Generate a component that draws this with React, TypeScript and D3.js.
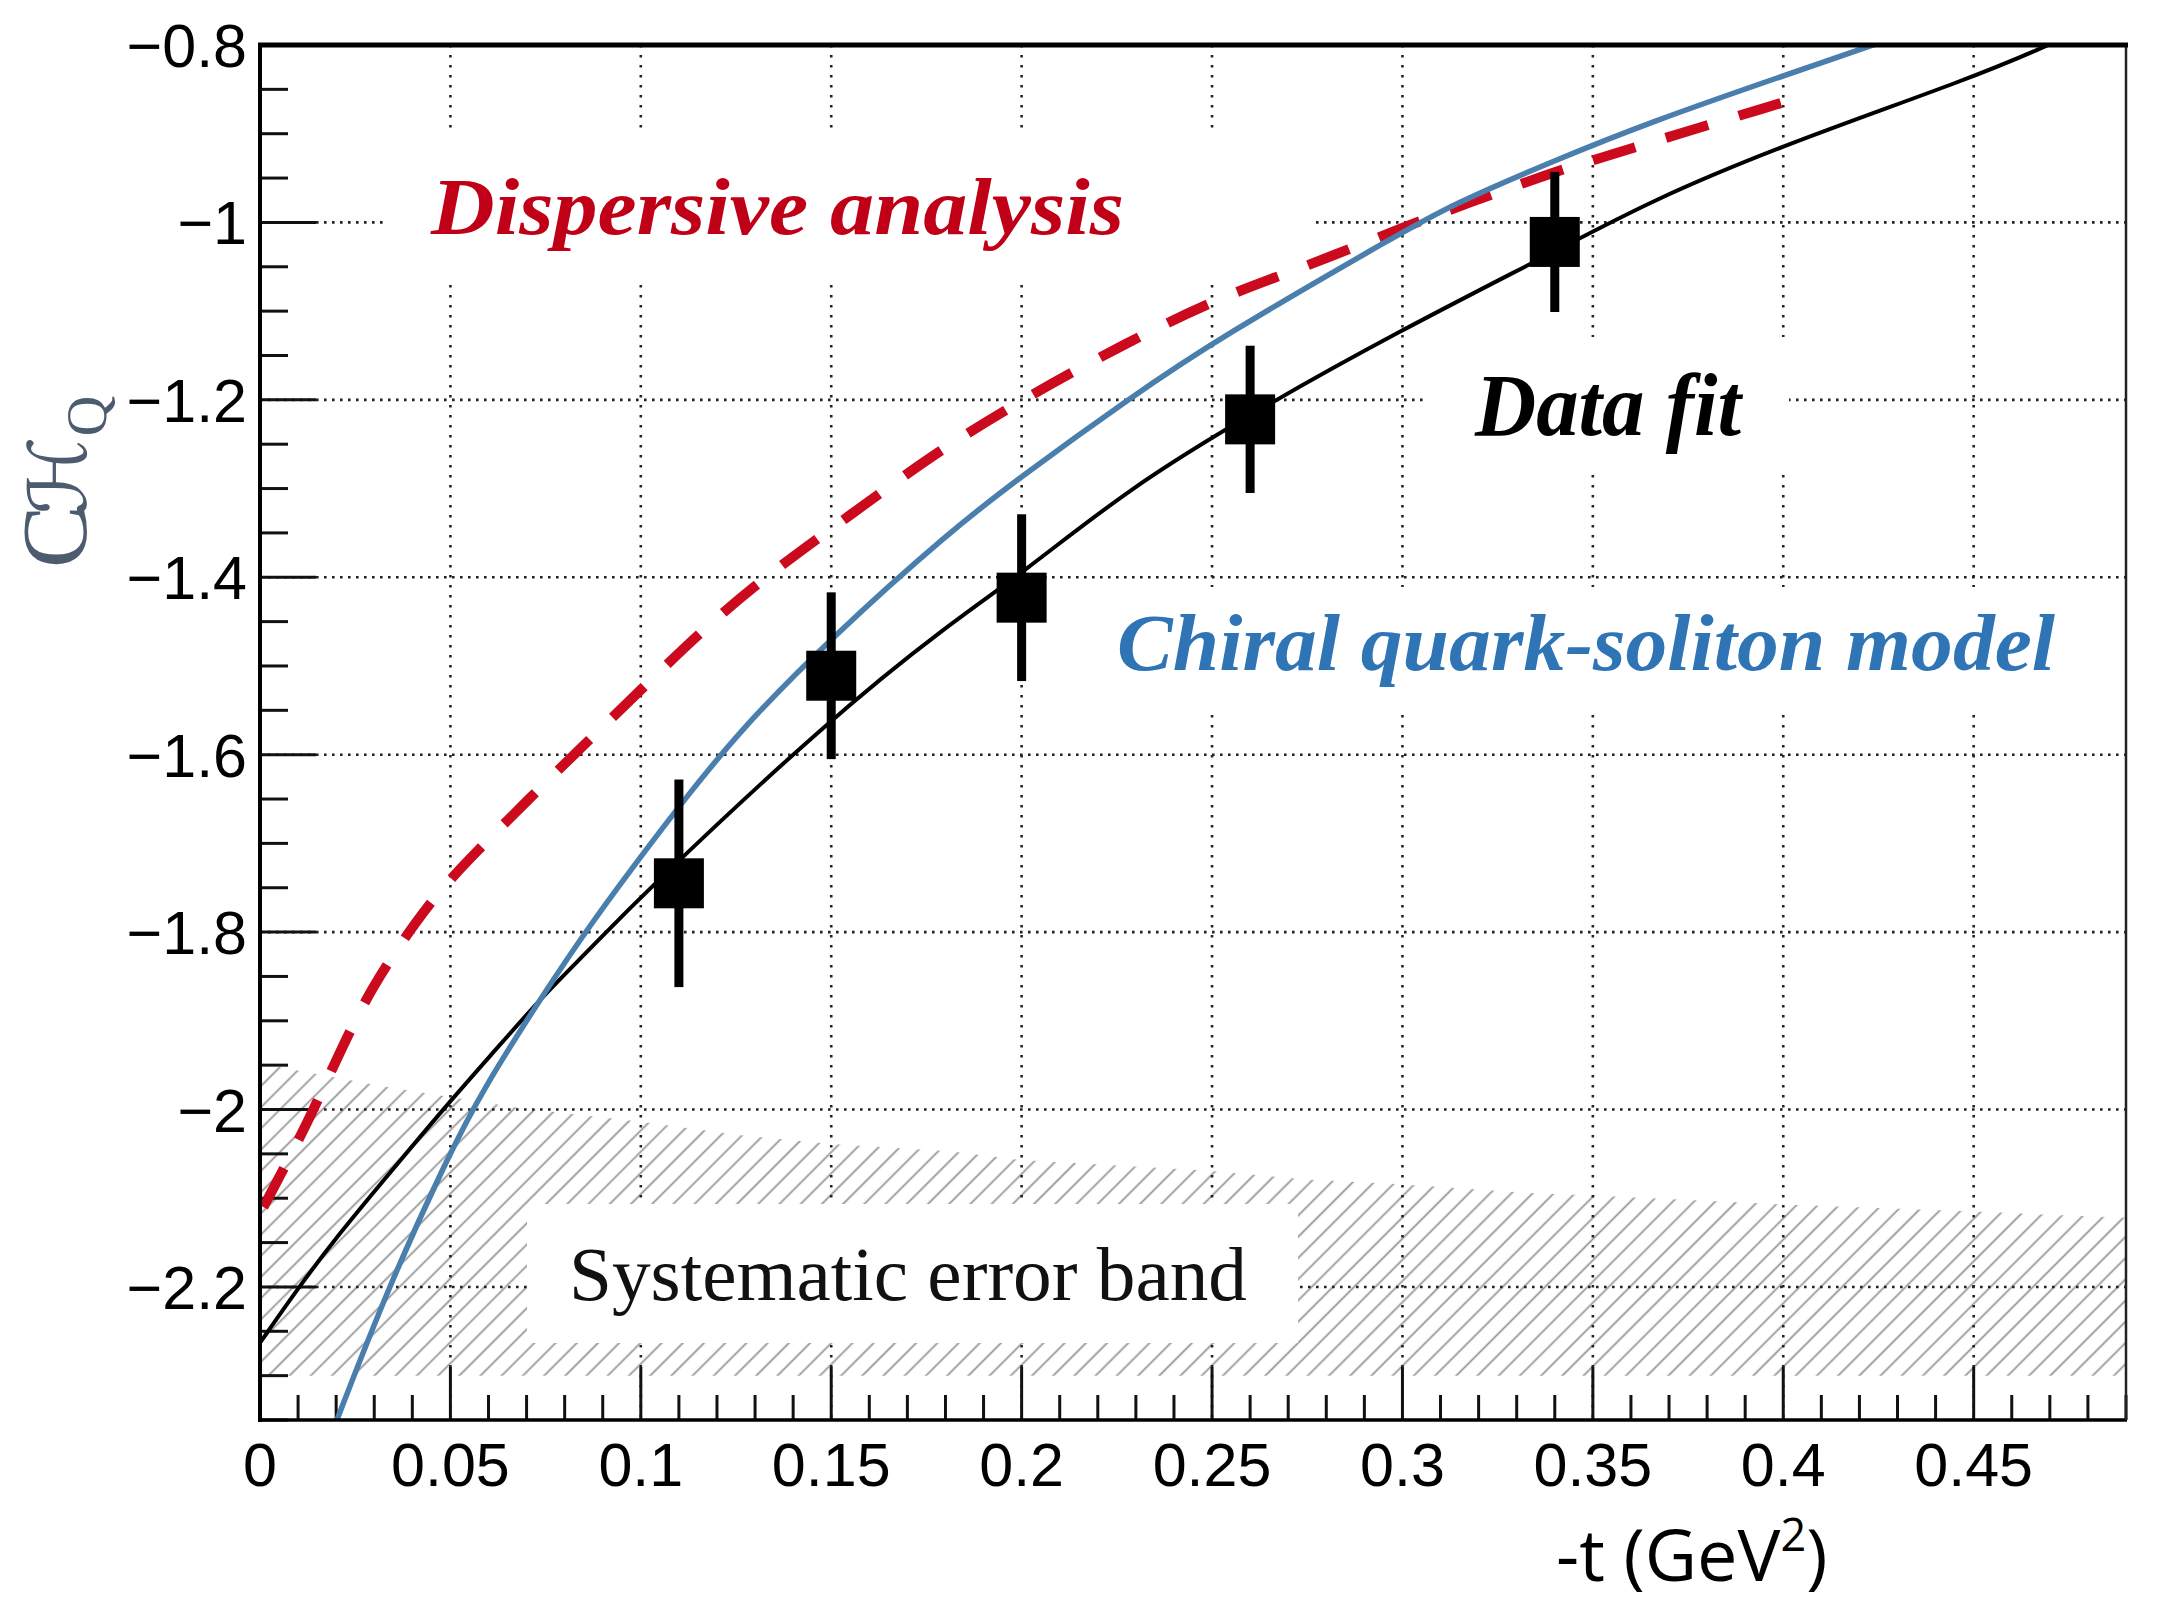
import React from "react";
import * as d3 from "d3";

// Data fit points with error bars
const pointT = [0.11, 0.15, 0.2, 0.26, 0.34];
const pointVal = [-1.745, -1.511, -1.423, -1.222, -1.022];
const pointErr = [0.117, 0.094, 0.094, 0.083, 0.079];

// Data fit curve (black)
const fitT = [0, 0.0102, 0.0208, 0.0326, 0.049, 0.0618, 0.0747, 0.0865, 0.1005, 0.15, 0.1812, 0.2, 0.2281, 0.26, 0.2984, 0.34, 0.365, 0.3998, 0.4503, 0.4696];
const fitVal = [-2.263, -2.2, -2.14, -2.079, -1.995, -1.933, -1.87, -1.82, -1.757, -1.558, -1.452, -1.396, -1.3, -1.216, -1.124, -1.033, -0.976, -0.913, -0.836, -0.8];

// Chiral quark-soliton model (blue)
const chqsmT = [0.0202, 0.0337, 0.0495, 0.0583, 0.0747, 0.0865, 0.1005, 0.1099, 0.1263, 0.1498, 0.1812, 0.2, 0.2281, 0.2515, 0.3, 0.3125, 0.34, 0.365, 0.3998, 0.425];
const chqsmVal = [-2.35, -2.2, -2.052, -1.979, -1.868, -1.793, -1.712, -1.659, -1.571, -1.469, -1.348, -1.286, -1.199, -1.131, -1.011, -0.981, -0.93, -0.887, -0.835, -0.798];

// Dispersive analysis (red dashed)
const dispT = [0.0009, 0.0115, 0.0196, 0.029, 0.0419, 0.049, 0.056, 0.0701, 0.0853, 0.1, 0.1158, 0.1322, 0.1498, 0.1709, 0.1812, 0.2, 0.2281, 0.2515, 0.2679, 0.2808, 0.3, 0.3172, 0.34, 0.3477, 0.365, 0.3998, 0.402];
const dispVal = [-2.11, -2.024, -1.948, -1.863, -1.782, -1.745, -1.713, -1.652, -1.588, -1.527, -1.461, -1.401, -1.346, -1.28, -1.25, -1.2, -1.134, -1.086, -1.06, -1.039, -1.006, -0.978, -0.943, -0.933, -0.91, -0.865, -0.862];

// Systematic error band (hatched)
const bandT = [0, 0.0326, 0.0677, 0.1005, 0.1263, 0.15, 0.1812, 0.2, 0.2493, 0.275, 0.2984, 0.3335, 0.35, 0.4, 0.4503, 0.49];
const bandTop = [-1.948, -1.974, -1.998, -2.014, -2.029, -2.039, -2.047, -2.057, -2.069, -2.079, -2.084, -2.094, -2.097, -2.107, -2.115, -2.122];
const bandBottom = -2.3;

const xMajor = [0, 0.05, 0.1, 0.15, 0.2, 0.25, 0.3, 0.35, 0.4, 0.45];
const xLabels = ["0", "0.05", "0.1", "0.15", "0.2", "0.25", "0.3", "0.35", "0.4", "0.45"];
const yMajor = [-0.8, -1, -1.2, -1.4, -1.6, -1.8, -2, -2.2];
const yLabels = ["\u22120.8", "\u22121", "\u22121.2", "\u22121.4", "\u22121.6", "\u22121.8", "\u22122", "\u22122.2"];

const W = 2172;
const H = 1606;
const L = 260, R = 2126, T = 45, B = 1420;

const App = () => {
  const x = d3.scaleLinear().domain([0, 0.49]).range([L, R]);
  const y = d3.scaleLinear().domain([-2.35, -0.8]).range([B, T]);

  const xMinor = d3.range(0, 0.4901, 0.01).filter((v) => Math.abs(v / 0.05 - Math.round(v / 0.05)) > 1e-6);
  const yMinor = d3.range(-2.35, -0.8, 0.05).filter((v) => Math.abs(v / 0.2 - Math.round(v / 0.2)) > 1e-6);

  const line = d3
    .line<[number, number]>()
    .x((d) => x(d[0]))
    .y((d) => y(d[1]))
    .curve(d3.curveBasis);

  const area = d3
    .area<[number, number]>()
    .x((d) => x(d[0]))
    .y0(y(bandBottom))
    .y1((d) => y(d[1]));

  const zip = (a: number[], b: number[]) => a.map((v, i) => [v, b[i]] as [number, number]);

  // white boxes behind the labels (hide grid + hatch)
  const boxes = [
    { x0: 384, x1: 1312, y0: 134, y1: 279 },
    { x0: 1428, x1: 1789, y0: 337, y1: 469 },
    { x0: 1105, x1: 2070, y0: 587, y1: 713 },
    { x0: 527, x1: 1298, y0: 1204, y1: 1343 },
  ];

  return (
    <svg width={W} height={H} style={{ position: "absolute", left: 0, top: 0, background: "#fff" }}>
      <defs>
        <clipPath id="plot">
          <rect x={L} y={T} width={R - L} height={B - T} />
        </clipPath>
        <pattern id="hatch" patternUnits="userSpaceOnUse" width={15} height={15} patternTransform="rotate(-45)">
          <line x1={0} y1={7.5} x2={15} y2={7.5} stroke="#909090" strokeWidth={1.7} />
        </pattern>
      </defs>
      <rect x={0} y={0} width={W} height={H} fill="#fff" />

      {/* hatched systematic band */}
      <path d={area(zip(bandT, bandTop)) || ""} fill="url(#hatch)" clipPath="url(#plot)" />

      {/* grid */}
      <g stroke="#222" strokeWidth={2.6}>
        {xMajor.slice(1).map((v) => (
          <line key={"gx" + v} x1={x(v)} x2={x(v)} y1={T} y2={B} strokeDasharray="2.6,7.4" />
        ))}
        {yMajor.slice(1).map((v) => (
          <line key={"gy" + v} x1={L} x2={R} y1={y(v)} y2={y(v)} strokeDasharray="2.6,5.4" />
        ))}
      </g>

      {boxes.map((b, i) => (
        <rect key={"b" + i} x={b.x0} y={b.y0} width={b.x1 - b.x0} height={b.y1 - b.y0} fill="#fff" />
      ))}

      {/* ticks */}
      <g stroke="#111" strokeWidth={3}>
        {xMajor.map((v) => (
          <line key={"xt" + v} x1={x(v)} x2={x(v)} y1={B} y2={B - 53} />
        ))}
        {xMinor.map((v) => (
          <line key={"xm" + v} x1={x(v)} x2={x(v)} y1={B} y2={B - 25} />
        ))}
        {yMajor.map((v) => (
          <line key={"yt" + v} x1={L} x2={L + 56} y1={y(v)} y2={y(v)} />
        ))}
        {yMinor.map((v) => (
          <line key={"ym" + v} x1={L} x2={L + 28} y1={y(v)} y2={y(v)} />
        ))}
      </g>

      {/* curves */}
      <g clipPath="url(#plot)" fill="none">
        <path d={line(zip(dispT, dispVal)) || ""} stroke="#cc0a1e" strokeWidth={10} strokeDasharray="44,32" />
        <path d={line(zip(fitT, fitVal)) || ""} stroke="#000" strokeWidth={4} />
        <path d={line(zip(chqsmT, chqsmVal)) || ""} stroke="#4a7fad" strokeWidth={5.5} />
      </g>

      {/* data points */}
      <g fill="#000">
        {pointT.map((t, i) => (
          <g key={"p" + t}>
            <rect x={x(t) - 4.5} width={9} y={y(pointVal[i] + pointErr[i])} height={y(pointVal[i] - pointErr[i]) - y(pointVal[i] + pointErr[i])} />
            <rect x={x(t) - 25} y={y(pointVal[i]) - 25} width={50} height={50} />
          </g>
        ))}
      </g>

      {/* frame */}
      <line x1={L} x2={L} y1={T - 2} y2={B + 2} stroke="#000" strokeWidth={4} />
      <line x1={L - 2} x2={R + 1} y1={B} y2={B} stroke="#000" strokeWidth={3.5} />
      <line x1={R} x2={R} y1={T} y2={B} stroke="#222" strokeWidth={2.5} />
      <line x1={L - 2} x2={R + 2} y1={T} y2={T} stroke="#000" strokeWidth={5} />

      {/* tick labels */}
      <g fontFamily="'Liberation Sans', Arial, sans-serif" fontSize={61} fill="#000">
        {xMajor.map((v, i) => (
          <text key={"xl" + v} x={x(v)} y={B + 66} textAnchor="middle">
            {xLabels[i]}
          </text>
        ))}
        {yMajor.map((v, i) => (
          <text key={"yl" + v} x={L - 13} y={y(v) + 22} textAnchor="end">
            {yLabels[i]}
          </text>
        ))}
      </g>

      {/* axis titles */}
      <text x={1556} y={1581} fontFamily="'Open Sans', sans-serif" fontSize={72} fill="#000">
        -t (GeV
        <tspan fontSize={45} dy={-30}>2</tspan>
        <tspan dy={30}>)</tspan>
      </text>
      <text transform="translate(86, 568) rotate(-90)" fill="#4d5b6f" fontFamily="'Liberation Serif', serif" fontSize={94}>
        C
        <tspan fontFamily="'DejaVu Serif', 'DejaVu Sans', serif" fontSize={80} dx={-10}>ℋ</tspan>
        <tspan fontSize={56} dy={20}>Q</tspan>
      </text>

      {/* annotations */}
      <g fontFamily="'Liberation Serif', 'Times New Roman', serif" fontWeight="bold" fontStyle="italic">
        <text x={431} y={234} fontSize={81} fill="#c00016" textLength={693} lengthAdjust="spacingAndGlyphs">
          Dispersive analysis
        </text>
        <text x={1475} y={435} fontSize={88} fill="#000" textLength={266} lengthAdjust="spacingAndGlyphs">
          Data fit
        </text>
        <text x={1117} y={670} fontSize={81} fill="#2f74b5" textLength={938} lengthAdjust="spacingAndGlyphs">
          Chiral quark-soliton model
        </text>
      </g>
      <text x={569} y={1300} fontFamily="'Liberation Serif', 'Times New Roman', serif" fontSize={77} fill="#111" textLength={678} lengthAdjust="spacingAndGlyphs">
        Systematic error band
      </text>
    </svg>
  );
};

export default App;
